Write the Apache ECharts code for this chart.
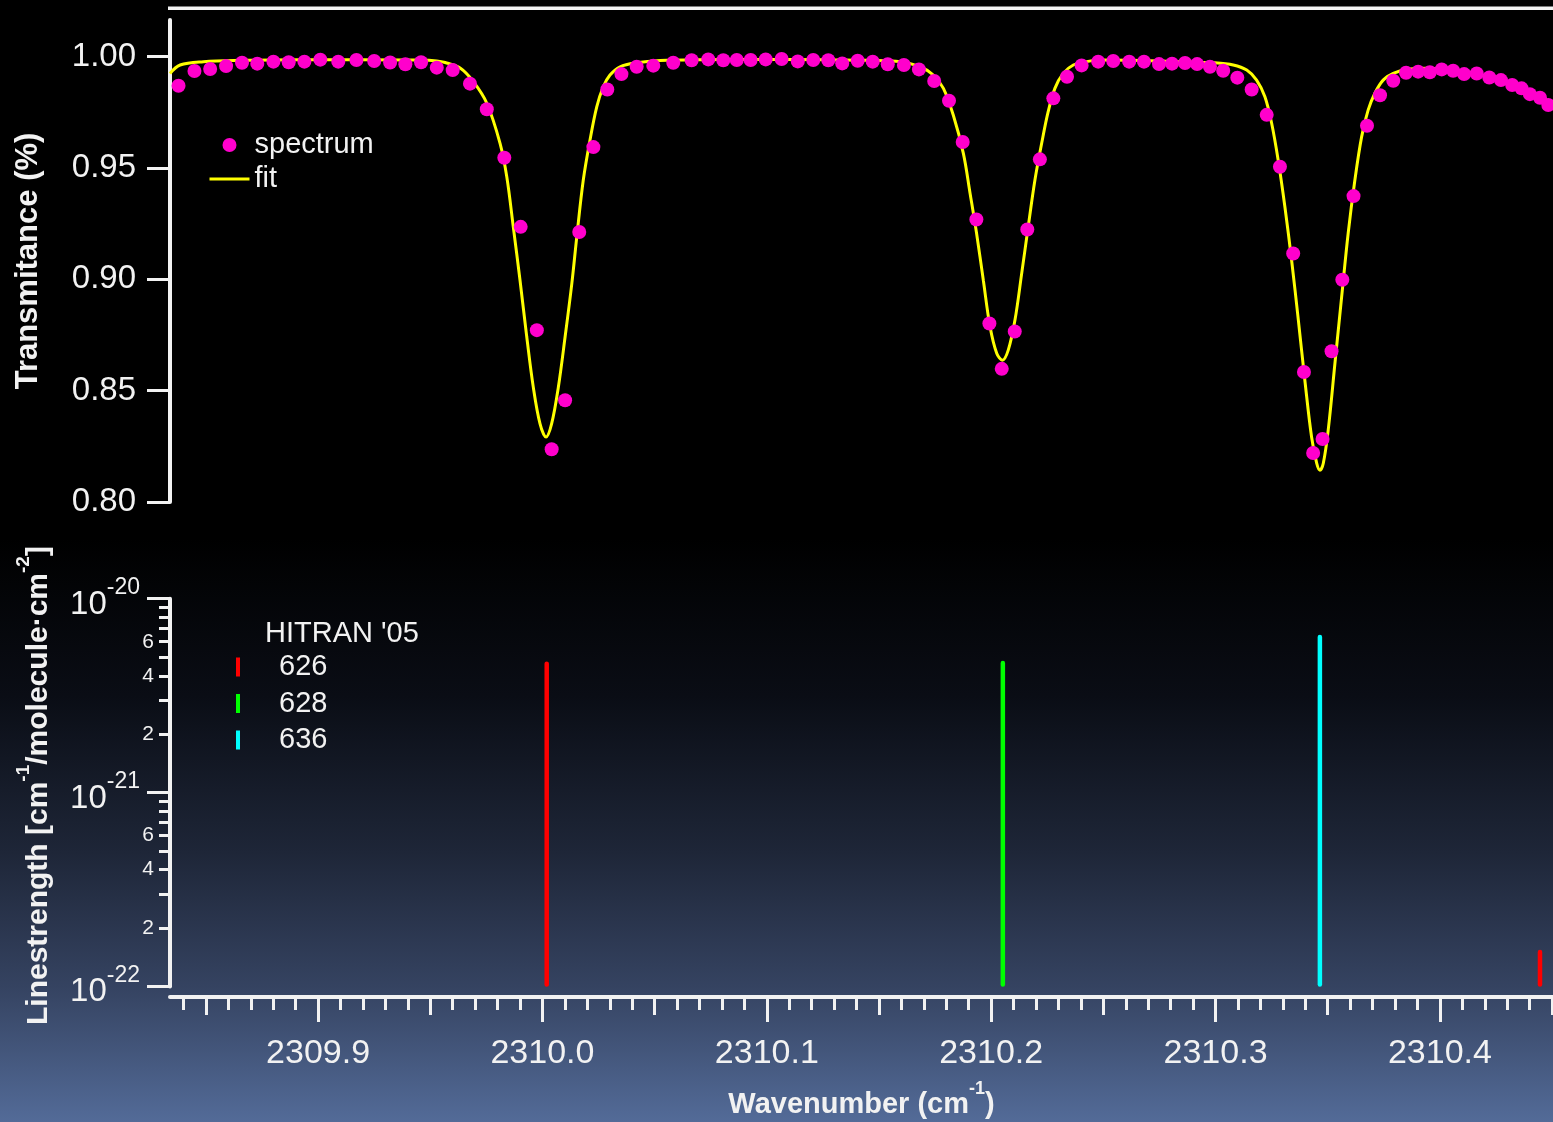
<!DOCTYPE html>
<html>
<head>
<meta charset="utf-8">
<title>CO2 transmittance near 2310 cm-1</title>
<script src="https://cdn.jsdelivr.net/npm/echarts@6/dist/echarts.min.js"></script>
<style>
  html, body { margin: 0; padding: 0; background: #000; }
  #chart { width: 1553px; height: 1122px; }
</style>
</head>
<body>
<div id="chart"></div>
<script>
// Measured transmittance spectrum (wavenumber in cm-1, transmittance)
const specX = [
  2309.8378, 2309.8449, 2309.8519, 2309.8590, 2309.8661, 2309.8729, 2309.8801, 2309.8869, 2309.8939, 2309.9010,
  2309.9090, 2309.9171, 2309.9250, 2309.9321, 2309.9389, 2309.9459, 2309.9529, 2309.9600, 2309.9677, 2309.9752,
  2309.9830, 2309.9903, 2309.9975, 2310.0041, 2310.0101, 2310.0164, 2310.0227, 2310.0289, 2310.0352, 2310.0420,
  2310.0494, 2310.0583, 2310.0665, 2310.0739, 2310.0806, 2310.0866, 2310.0928, 2310.0995, 2310.1066, 2310.1138,
  2310.1207, 2310.1274, 2310.1336, 2310.1405, 2310.1472, 2310.1539, 2310.1611, 2310.1678, 2310.1746, 2310.1812,
  2310.1873, 2310.1934, 2310.1992, 2310.2047, 2310.2105, 2310.2161, 2310.2217, 2310.2277, 2310.2338, 2310.2403,
  2310.2477, 2310.2544, 2310.2615, 2310.2681, 2310.2748, 2310.2806, 2310.2864, 2310.2918, 2310.2975, 2310.3034,
  2310.3097, 2310.3161, 2310.3228, 2310.3287, 2310.3346, 2310.3394, 2310.3435, 2310.3477, 2310.3517, 2310.3565,
  2310.3615, 2310.3675, 2310.3733, 2310.3792, 2310.3849, 2310.3903, 2310.3955, 2310.4008, 2310.4059, 2310.4108,
  2310.4164, 2310.4220, 2310.4272, 2310.4322, 2310.4364, 2310.4401, 2310.4446, 2310.4483
];
const specY = [
  0.9870, 0.9936, 0.9945, 0.9958, 0.9973, 0.9969, 0.9978, 0.9975, 0.9978, 0.9987,
  0.9978, 0.9985, 0.9981, 0.9974, 0.9966, 0.9975, 0.9951, 0.9940, 0.9879, 0.9764,
  0.9546, 0.9236, 0.8772, 0.8237, 0.8457, 0.9213, 0.9594, 0.9853, 0.9922, 0.9955,
  0.9960, 0.9973, 0.9984, 0.9988, 0.9984, 0.9985, 0.9985, 0.9988, 0.9990, 0.9979,
  0.9985, 0.9984, 0.9970, 0.9982, 0.9978, 0.9966, 0.9963, 0.9943, 0.9891, 0.9802,
  0.9617, 0.9269, 0.8802, 0.8598, 0.8766, 0.9224, 0.9539, 0.9813, 0.9910, 0.9961,
  0.9978, 0.9981, 0.9978, 0.9978, 0.9967, 0.9969, 0.9972, 0.9967, 0.9955, 0.9937,
  0.9906, 0.9853, 0.9739, 0.9506, 0.9116, 0.8584, 0.8220, 0.8283, 0.8677, 0.8998,
  0.9374, 0.9690, 0.9827, 0.9892, 0.9928, 0.9933, 0.9930, 0.9943, 0.9937, 0.9922,
  0.9925, 0.9907, 0.9895, 0.9873, 0.9858, 0.9832, 0.9816, 0.9783
];

// Fitted line profile
const fitX = [
  2309.8340, 2309.8385, 2309.8489, 2309.8652, 2309.8920, 2309.9187, 2309.9455, 2309.9529, 2309.9566, 2309.9633,
  2309.9692, 2309.9752, 2309.9811, 2309.9841, 2309.9870, 2309.9900, 2309.9930, 2309.9959, 2309.9989, 2310.0016,
  2310.0041, 2310.0071, 2310.0101, 2310.0131, 2310.0153, 2310.0182, 2310.0212, 2310.0242, 2310.0271, 2310.0301,
  2310.0346, 2310.0420, 2310.0524, 2310.0702, 2310.0970, 2310.1237, 2310.1460, 2310.1594, 2310.1683, 2310.1742,
  2310.1787, 2310.1831, 2310.1876, 2310.1906, 2310.1935, 2310.1965, 2310.1995, 2310.2025, 2310.2050, 2310.2076,
  2310.2106, 2310.2136, 2310.2165, 2310.2195, 2310.2225, 2310.2254, 2310.2284, 2310.2321, 2310.2366, 2310.2426,
  2310.2485, 2310.2663, 2310.2841, 2310.2990, 2310.3079, 2310.3139, 2310.3183, 2310.3220, 2310.3250, 2310.3279,
  2310.3309, 2310.3339, 2310.3369, 2310.3398, 2310.3428, 2310.3451, 2310.3465, 2310.3480, 2310.3502, 2310.3532,
  2310.3562, 2310.3591, 2310.3621, 2310.3651, 2310.3680, 2310.3710, 2310.3747, 2310.3792, 2310.3852, 2310.3941,
  2310.4030, 2310.4119, 2310.4208, 2310.4297, 2310.4386, 2310.4504
];
const fitY = [
  0.9925, 0.9963, 0.9978, 0.9984, 0.9987, 0.9987, 0.9985, 0.9981, 0.9974, 0.9949,
  0.9888, 0.9791, 0.9611, 0.9461, 0.9236, 0.8996, 0.8742, 0.8517, 0.8352, 0.8292,
  0.8352, 0.8517, 0.8742, 0.8982, 0.9191, 0.9446, 0.9626, 0.9775, 0.9865, 0.9918,
  0.9955, 0.9973, 0.9983, 0.9987, 0.9988, 0.9987, 0.9984, 0.9978, 0.9955, 0.9918,
  0.9858, 0.9738, 0.9566, 0.9386, 0.9206, 0.8996, 0.8787, 0.8667, 0.8637, 0.8682,
  0.8817, 0.9027, 0.9236, 0.9446, 0.9611, 0.9753, 0.9858, 0.9925, 0.9963, 0.9978,
  0.9985, 0.9983, 0.9978, 0.9973, 0.9963, 0.9940, 0.9895, 0.9820, 0.9701, 0.9536,
  0.9326, 0.9086, 0.8817, 0.8547, 0.8292, 0.8173, 0.8143, 0.8173, 0.8322, 0.8622,
  0.8921, 0.9206, 0.9446, 0.9640, 0.9760, 0.9836, 0.9895, 0.9925, 0.9943, 0.9948,
  0.9943, 0.9933, 0.9913, 0.9888, 0.9850, 0.9791
];

// HITRAN 2005 line positions (cm-1) and strengths (cm-1/(molecule cm-2)) per isotopologue
const iso626X = [2310.0019, 2310.4446];
const iso626S = [4.73e-21, 1.54e-22];
const iso628X = [2310.2052];
const iso628S = [4.77e-21];
const iso636X = [2310.3465];
const iso636S = [6.5e-21];

// Tick values
const transTicks = [0.80, 0.85, 0.90, 0.95, 1.00];
const waveTicks = [2309.9, 2310.0, 2310.1, 2310.2, 2310.3, 2310.4];
const decadeTicks = [1e-22, 1e-21, 1e-20];
const mantissaLabelTicks = [2e-22, 4e-22, 6e-22, 2e-21, 4e-21, 6e-21];

const X_MIN = 2309.834, X_MAX = 2310.4504;
const T_MIN = 0.80, T_MAX = 1.0165;
const S_MIN = 1e-22, S_MAX = 1e-20;

// Intermediate tick positions (every 0.05 and every 0.01 cm-1; every mantissa 2..9 per decade)
const halfTicks = [];
for (let i = 46197; i <= 46209; i++) halfTicks.push(i / 20);
const hundredthTicks = [];
for (let i = 230984; i <= 231045; i++) hundredthTicks.push(i / 100);
const mantissaTicks = [];
[-22, -21].forEach(function (e) {
  for (let m = 2; m <= 9; m++) mantissaTicks.push(Number(m + 'e' + e));
});

const FONT = '"Liberation Sans", Arial, Helvetica, sans-serif';
const INK = '#f2f2f2';
const AXIS_W = 4;
const TICK_W = 3;

const zip = (xs, ys) => xs.map((x, i) => [x, ys[i]]);

function stickRenderer(color) {
  return function (params, api) {
    const tip = api.coord([api.value(0), api.value(1)]);
    const base = api.coord([api.value(0), S_MIN]);
    return {
      type: 'line',
      shape: { x1: tip[0], y1: tip[1] + 2, x2: base[0], y2: base[1] - 2 },
      style: { stroke: color, lineWidth: 4.5, lineCap: 'round' }
    };
  };
}

function hiddenTickXAxis(ticks, len) {
  return {
    type: 'value', gridIndex: 1, min: X_MIN, max: X_MAX, position: 'bottom', offset: 10.6,
    axisLine: { show: false },
    axisTick: { show: true, customValues: ticks, length: len, lineStyle: { color: INK, width: TICK_W } },
    axisLabel: { show: false },
    splitLine: { show: false }
  };
}

const chart = echarts.init(document.getElementById('chart'), null, { renderer: 'canvas' });

const option = {
  backgroundColor: '#000',
  animation: false,
  textStyle: { fontFamily: FONT, color: INK },
  graphic: [
    {
      type: 'rect', z: -10, silent: true,
      shape: { x: 0, y: 0, width: 1553, height: 1122 },
      style: {
        fill: new echarts.graphic.LinearGradient(0, 0, 0, 1, [
          { offset: 0.00, color: '#000000' },
          { offset: 0.48, color: '#000000' },
          { offset: 0.62, color: '#0a0d15' },
          { offset: 0.76, color: '#1e2638' },
          { offset: 0.88, color: '#354361' },
          { offset: 1.00, color: '#536b98' }
        ])
      }
    },
    {
      type: 'rect', z: 5, silent: true,
      shape: { x: 168, y: 6.5, width: 1385, height: 3.5 },
      style: { fill: INK }
    }
  ],
  title: {
    text: "HITRAN '05",
    left: 265, top: 619, padding: 0,
    textStyle: { color: INK, fontSize: 29, fontWeight: 'normal', fontFamily: FONT }
  },
  legend: [
    {
      left: 208, top: 130.5, orient: 'vertical', padding: 0,
      itemWidth: 40, itemHeight: 14, itemGap: 5, selectedMode: false,
      textStyle: { color: INK, fontSize: 29, fontFamily: FONT },
      data: [
        { name: 'spectrum', icon: 'circle' },
        { name: 'fit', itemStyle: { opacity: 0, borderWidth: 0 }, lineStyle: { width: 3, color: '#ffff00' } }
      ]
    },
    {
      left: 236, top: 652.5, orient: 'vertical', padding: 0,
      itemWidth: 4, itemHeight: 19, itemGap: 7.5, selectedMode: false,
      textStyle: { color: INK, fontSize: 29, fontFamily: FONT, padding: [0, 0, 0, 34] },
      data: [
        { name: '626', icon: 'rect' },
        { name: '628', icon: 'rect' },
        { name: '636', icon: 'rect' }
      ]
    }
  ],
  grid: [
    { left: 170, right: 0, top: 20, height: 482, outerBoundsMode: 'none', containLabel: false },
    { left: 170, right: 0, top: 598.7, height: 387.7, outerBoundsMode: 'none', containLabel: false }
  ],
  xAxis: [
    {
      type: 'value', gridIndex: 0, min: X_MIN, max: X_MAX, show: false,
      splitLine: { show: false }
    },
    {
      type: 'value', gridIndex: 1, min: X_MIN, max: X_MAX, position: 'bottom', offset: 10.6,
      axisLine: { show: true, lineStyle: { color: INK, width: AXIS_W } },
      axisTick: { show: true, customValues: waveTicks, length: 25, lineStyle: { color: INK, width: TICK_W } },
      axisLabel: {
        show: true, customValues: waveTicks, margin: 40,
        formatter: v => v.toFixed(1),
        color: INK, fontSize: 34, fontFamily: FONT
      },
      splitLine: { show: false },
      name: '{m|Wavenumber (cm}{s|-1}{m|)}',
      nameLocation: 'middle', nameGap: 83, nameMoveOverlap: false,
      nameTextStyle: {
        color: INK, fontFamily: FONT,
        rich: {
          m: { fontSize: 29, fontWeight: 'bold', color: INK, fontFamily: FONT, padding: [10, 0, 0, 0], verticalAlign: 'bottom' },
          s: { fontSize: 18, fontWeight: 'bold', color: INK, fontFamily: FONT, verticalAlign: 'top' }
        }
      }
    },
    hiddenTickXAxis(halfTicks, 18),
    hiddenTickXAxis(hundredthTicks, 13)
  ],
  yAxis: [
    {
      type: 'value', gridIndex: 0, min: T_MIN, max: T_MAX, position: 'left',
      axisLine: { show: true, lineStyle: { color: INK, width: AXIS_W } },
      axisTick: { show: true, customValues: transTicks, length: 23, lineStyle: { color: INK, width: TICK_W } },
      axisLabel: {
        show: true, customValues: transTicks, margin: 34,
        formatter: v => v.toFixed(2),
        color: INK, fontSize: 33, fontFamily: FONT
      },
      splitLine: { show: false },
      name: 'Transmitance (%)',
      nameLocation: 'middle', nameGap: 126, nameMoveOverlap: false,
      nameTextStyle: { color: INK, fontSize: 31, fontWeight: 'bold', fontFamily: FONT }
    },
    {
      type: 'log', logBase: 10, gridIndex: 1, min: S_MIN, max: S_MAX, position: 'left',
      axisLine: { show: true, lineStyle: { color: INK, width: AXIS_W } },
      axisTick: { show: true, customValues: decadeTicks, length: 23, lineStyle: { color: INK, width: TICK_W } },
      axisLabel: {
        show: true, customValues: decadeTicks, margin: 30,
        formatter: v => '{b|10}{s|' + Math.round(Math.log10(v)) + '}',
        rich: {
          b: { fontSize: 33, color: INK, fontFamily: FONT, padding: [12, 0, 0, 0], verticalAlign: 'bottom' },
          s: { fontSize: 23, color: INK, fontFamily: FONT, verticalAlign: 'top' }
        }
      },
      splitLine: { show: false },
      name: '{m|Linestrength [cm}{s|-1}{m|/molecule·cm}{s|-2}{m|]}',
      nameLocation: 'middle', nameGap: 116, nameMoveOverlap: false,
      nameTextStyle: {
        color: INK, fontFamily: FONT, padding: [0, 0, 0, 14],
        rich: {
          m: { fontSize: 30, fontWeight: 'bold', color: INK, fontFamily: FONT, padding: [10, 0, 0, 0], verticalAlign: 'bottom' },
          s: { fontSize: 19, fontWeight: 'bold', color: INK, fontFamily: FONT, verticalAlign: 'top' }
        }
      }
    },
    {
      type: 'log', logBase: 10, gridIndex: 1, min: S_MIN, max: S_MAX, position: 'left',
      axisLine: { show: false },
      axisTick: { show: true, customValues: mantissaTicks, length: 11, lineStyle: { color: INK, width: TICK_W } },
      axisLabel: {
        show: true, customValues: mantissaLabelTicks, margin: 16,
        formatter: v => String(Math.round(v / Math.pow(10, Math.floor(Math.log10(v) + 1e-9)))),
        color: INK, fontSize: 21, fontFamily: FONT
      },
      splitLine: { show: false }
    }
  ],
  series: [
    {
      name: 'fit', type: 'line', xAxisIndex: 0, yAxisIndex: 0,
      data: zip(fitX, fitY),
      symbol: 'none', showSymbol: false, smooth: 0.35,
      lineStyle: { color: '#ffff00', width: 3 },
      itemStyle: { color: '#ffff00' },
      z: 2
    },
    {
      name: 'spectrum', type: 'scatter', xAxisIndex: 0, yAxisIndex: 0,
      data: zip(specX, specY),
      symbol: 'circle', symbolSize: 14,
      itemStyle: { color: '#ff00cc', opacity: 1 },
      z: 3
    },
    {
      name: '626', type: 'custom', xAxisIndex: 1, yAxisIndex: 1,
      data: zip(iso626X, iso626S), encode: { x: 0, y: 1 },
      itemStyle: { color: '#ff0000' },
      renderItem: stickRenderer('#ff0000')
    },
    {
      name: '628', type: 'custom', xAxisIndex: 1, yAxisIndex: 1,
      data: zip(iso628X, iso628S), encode: { x: 0, y: 1 },
      itemStyle: { color: '#00ff00' },
      renderItem: stickRenderer('#00ff00')
    },
    {
      name: '636', type: 'custom', xAxisIndex: 1, yAxisIndex: 1,
      data: zip(iso636X, iso636S), encode: { x: 0, y: 1 },
      itemStyle: { color: '#00ffff' },
      renderItem: stickRenderer('#00ffff')
    }
  ]
};

chart.setOption(option);
</script>
</body>
</html>
